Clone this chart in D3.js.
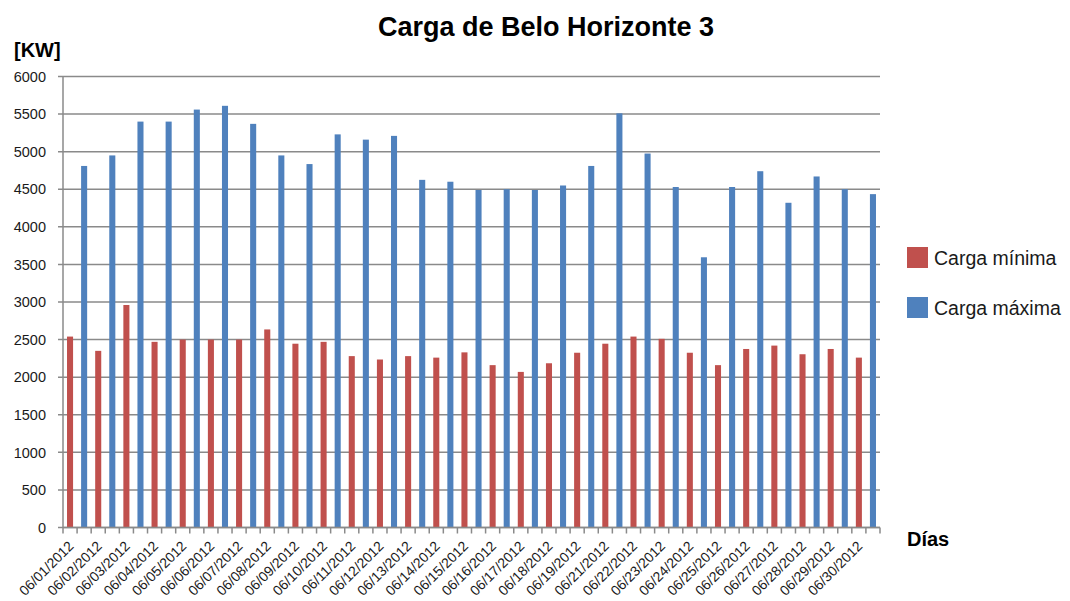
<!DOCTYPE html>
<html>
<head>
<meta charset="utf-8">
<script src="https://cdn.jsdelivr.net/npm/d3@7/dist/d3.min.js"></script>
<style>
  body { margin: 0; background: #fff; }
  svg { display: block; font-family: "Liberation Sans", Arial, sans-serif; }
</style>
</head>
<body>
<svg width="1070" height="601"></svg>
<script>
// --- data ---
const dates = ["06/01/2012","06/02/2012","06/03/2012","06/04/2012","06/05/2012","06/06/2012",
  "06/07/2012","06/08/2012","06/09/2012","06/10/2012","06/11/2012","06/12/2012","06/13/2012",
  "06/14/2012","06/15/2012","06/16/2012","06/17/2012","06/18/2012","06/19/2012","06/21/2012",
  "06/22/2012","06/23/2012","06/24/2012","06/25/2012","06/26/2012","06/27/2012","06/28/2012",
  "06/29/2012","06/30/2012"];
const cargaMinima = [2540, 2350, 2960, 2470, 2500, 2500, 2500, 2635, 2445, 2470, 2280, 2235, 2280,
  2260, 2330, 2160, 2070, 2185, 2325, 2445, 2540, 2510, 2325, 2160, 2375, 2420, 2305, 2375, 2260];
const cargaMaxima = [4810, 4950, 5400, 5400, 5560, 5610, 5370, 4950, 4835, 5230, 5160, 5210, 4625,
  4600, 4490, 4500, 4490, 4550, 4810, 5510, 4975, 4530, 3595, 4530, 4740, 4320, 4670, 4500, 4435];
const seriesNames = ["Carga mínima", "Carga máxima"];
const seriesColors = ["#C0504D", "#4F81BD"];
const yTicks = d3.range(0, 6001, 500);

const svg = d3.select("svg");
const plotL = 63, plotR = 880, plotT = 76.5, plotB = 527.5;

const x = d3.scaleBand().domain(dates).range([plotL, plotR]).padding(0);
const sub = d3.scaleBand().domain([0, 1]).range([0, x.bandwidth()]).paddingInner(0.57).paddingOuter(0.285);
const y = d3.scaleLinear().domain([0, 6000]).range([plotB, plotT]);

// title
svg.append("text").attr("x", 546).attr("y", 36).attr("text-anchor", "middle")
  .attr("font-size", 27).attr("font-weight", "bold").text("Carga de Belo Horizonte 3");
svg.append("text").attr("x", 14).attr("y", 57).attr("font-size", 20).attr("font-weight", "bold").text("[KW]");
svg.append("text").attr("x", 907).attr("y", 546).attr("font-size", 20).attr("font-weight", "bold").text("Días");

// gridlines + y labels
const yAxis = svg.append("g");
yAxis.selectAll("line").data(yTicks).enter().append("line")
  .attr("x1", plotL - 5).attr("x2", plotR)
  .attr("y1", d => y(d)).attr("y2", d => y(d))
  .attr("stroke", "#8a8a8a").attr("stroke-width", 1.5);
yAxis.selectAll("text").data(yTicks).enter().append("text")
  .attr("x", 46).attr("y", d => y(d)).attr("dy", "0.36em").attr("text-anchor", "end")
  .attr("font-size", 14.5).attr("fill", "#1a1a1a").text(d => d);
svg.append("line").attr("x1", plotL).attr("x2", plotL).attr("y1", plotT).attr("y2", plotB)
  .attr("stroke", "#8a8a8a").attr("stroke-width", 1.5);

// bars
const rows = dates.map((d, i) => ({ date: d, vals: [cargaMinima[i], cargaMaxima[i]] }));
const grp = svg.append("g").selectAll("g").data(rows).enter().append("g")
  .attr("transform", d => "translate(" + x(d.date) + ",0)");
grp.selectAll("rect").data(d => d.vals.map((v, k) => ({ k, v }))).enter().append("rect")
  .attr("x", d => sub(d.k)).attr("width", sub.bandwidth())
  .attr("y", d => y(d.v)).attr("height", d => y(0) - y(d.v))
  .attr("fill", d => seriesColors[d.k]);

// bottom axis ticks (between every bar) and date labels
const tickXs = [];
dates.forEach(d => { tickXs.push(x(d)); tickXs.push(x(d) + x.bandwidth() / 2); });
tickXs.push(plotR);
svg.append("g").selectAll("line").data(tickXs).enter().append("line")
  .attr("x1", d => d).attr("x2", d => d).attr("y1", plotB).attr("y2", plotB + 6)
  .attr("stroke", "#8a8a8a").attr("stroke-width", 1.5);
svg.append("line").attr("x1", plotL).attr("x2", plotR).attr("y1", plotB).attr("y2", plotB)
  .attr("stroke", "#8a8a8a").attr("stroke-width", 1.5);
svg.append("g").selectAll("text").data(dates).enter().append("text")
  .attr("transform", d => "translate(" + (x(d) + sub(0) + sub.bandwidth() / 2 + 1) + "," + (plotB + 16) + ") rotate(-45)")
  .attr("text-anchor", "end").attr("dy", "0.35em")
  .attr("font-size", 14).attr("fill", "#1a1a1a").text(d => d);

// legend
const lg = svg.append("g").selectAll("g").data(seriesNames).enter().append("g")
  .attr("transform", (d, i) => "translate(907," + (247 + i * 50) + ")");
lg.append("rect").attr("width", 21).attr("height", 21).attr("fill", (d, i) => seriesColors[i]);
lg.append("text").attr("x", 27).attr("y", 17.5).attr("font-size", 19.5).attr("fill", "#1a1a1a").text(d => d);
</script>
</body>
</html>
